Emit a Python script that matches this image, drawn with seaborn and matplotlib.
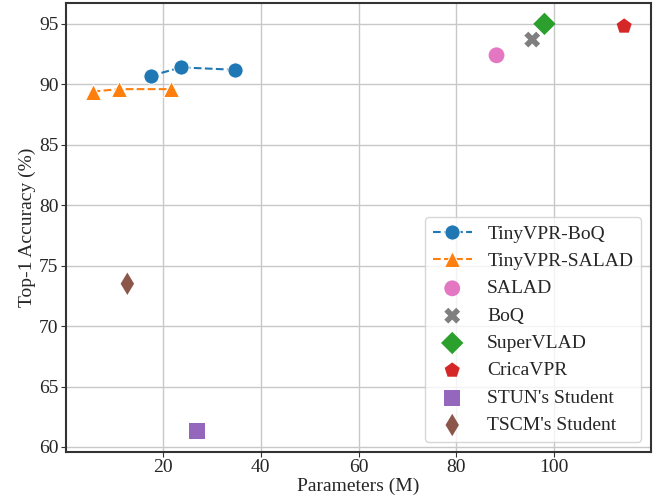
import matplotlib
matplotlib.use("Agg")
import matplotlib.pyplot as plt
import seaborn as sns

# TinyVPR variants (lines)
boq_tiny_params = [17.5, 23.7, 34.7]
boq_tiny_acc = [90.7, 91.4, 91.2]
salad_tiny_params = [5.6, 11.0, 21.6]
salad_tiny_acc = [89.4, 89.6, 89.6]

# single-point baselines
methods = ["SALAD", "BoQ", "SuperVLAD", "CricaVPR", "STUN's Student", "TSCM's Student"]
method_params = [88.2, 95.5, 98.0, 114.3, 26.9, 12.7]
method_acc = [92.4, 93.7, 95.0, 94.8, 61.3, 73.5]
method_markers = ["o", "X", "D", "p", "s", "d"]
method_colors = ["tab:pink", "tab:gray", "tab:green", "tab:red", "tab:purple", "tab:brown"]

sns.set_style("ticks")
plt.rcParams["font.family"] = ["Liberation Serif", "DejaVu Serif"]
plt.rcParams["font.size"] = 14

fig, ax = plt.subplots(figsize=(6.54, 4.99), dpi=100)

sns.lineplot(x=boq_tiny_params, y=boq_tiny_acc, ax=ax, color="tab:blue", marker="o",
             markersize=11, linestyle="--", label="TinyVPR-BoQ")
sns.lineplot(x=salad_tiny_params, y=salad_tiny_acc, ax=ax, color="tab:orange", marker="^",
             markersize=11, linestyle="--", label="TinyVPR-SALAD")

for name, px, acc, mk, col in zip(methods, method_params, method_acc, method_markers, method_colors):
    sns.scatterplot(x=[px], y=[acc], ax=ax, marker=mk, color=col, s=130,
                    edgecolor="none", label=name)

ax.grid(True, color="#c8c8c8", linewidth=1.0)
ax.set_axisbelow(True)
for sp in ax.spines.values():
    sp.set_visible(True)
    sp.set_color("#333333")
    sp.set_linewidth(1.5)
ax.tick_params(labelsize=14, color="#333333", pad=2)
ax.set_xlabel("Parameters (M)", fontsize=14, labelpad=1)
ax.set_ylabel("Top-1 Accuracy (%)", fontsize=14, labelpad=2)
ax.legend(loc="lower right", fontsize=14, frameon=True)

fig.subplots_adjust(left=0.101, right=0.995, top=0.993, bottom=0.095)
fig.savefig("out.png", dpi=100)
